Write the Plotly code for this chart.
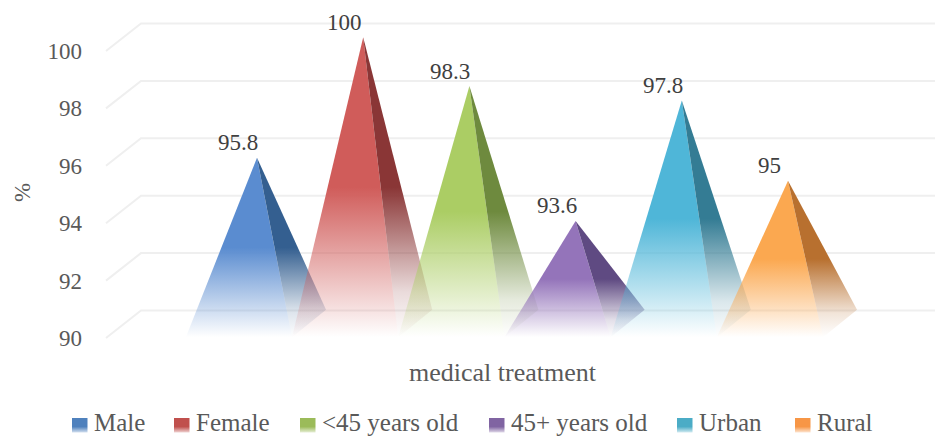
import plotly.graph_objects as go

# Survey results, in percent
categories = ["Male", "Female", "<45 years old", "45+ years old", "Urban", "Rural"]
values = [95.8, 100, 98.3, 93.6, 97.8, 95]
y_ticks = [90, 92, 94, 96, 98, 100]
x_title = "medical treatment"
y_title = "%"

front_colors = ["#5A8CD0", "#D05C5A", "#ABCD64", "#9474BA", "#4FB6D8", "#FBA850"]
side_colors = ["#345F90", "#8A3636", "#6E8A3E", "#5F4A82", "#347C94", "#B8702F"]
swatch_colors = ["#4F81BD", "#C0504D", "#9BBB59", "#8064A2", "#4BACC6", "#F79646"]
legend_x = [72, 174, 300, 489, 677, 795]

WIDTH, HEIGHT = 935, 438
FONT = "Liberation Serif"
NUMBER_SIZE = 23
TITLE_SIZE = 26
LEGEND_SIZE = 25

# Pixel layout of the oblique projection
PX_PER_UNIT = 28.7
PX_PER_SLOT = 106.2
ORIGIN_X, FLOOR_Y = 257.0, 338.0


def data_x(px):
    return (px - ORIGIN_X) / PX_PER_SLOT


def data_y(py):
    return 90 + (FLOOR_Y - py) / PX_PER_UNIT


def rgba(hex_color, alpha):
    r, g, b = (int(hex_color[i:i + 2], 16) for i in (1, 3, 5))
    return f"rgba({r},{g},{b},{alpha})"


X_RANGE = [data_x(0), data_x(WIDTH)]
Y_RANGE = [data_y(HEIGHT), data_y(0)]

DEPTH_X = 35 / PX_PER_SLOT        # front-to-back shift of the floor, in slots
DEPTH_Y = 27.5 / PX_PER_UNIT      # the same shift in value units
APEX_LIFT = DEPTH_Y / 2           # apexes stand on the mid-depth plane
FRONT_LEFT, FRONT_RIGHT, BACK_RIGHT = -0.67, 0.33, 0.65

fig = go.Figure()

# Oblique gridlines: short return on the left wall, long run along the back wall
grid_x, grid_y = [], []
for tick in y_ticks:
    grid_x += [data_x(106), data_x(106) + DEPTH_X, X_RANGE[1], None]
    grid_y += [tick, tick + DEPTH_Y, tick + DEPTH_Y, None]
fig.add_trace(go.Scatter(x=grid_x, y=grid_y, mode="lines", showlegend=False,
                         hoverinfo="skip", line=dict(color="#EFEFEF", width=2)))


def face(xs, ys, color, bottom, top, low_alpha):
    """One pyramid face, opaque in its upper half and fading out to the base."""
    fig.add_trace(go.Scatter(
        x=xs, y=ys, mode="lines", fill="toself", showlegend=False, hoverinfo="skip",
        line=dict(width=0),
        fillgradient=dict(type="vertical", start=bottom, stop=top,
                          colorscale=[[0, rgba(color, 0)],
                                      [0.15, rgba(color, low_alpha)],
                                      [0.5, rgba(color, 1)],
                                      [1, rgba(color, 1)]]),
    ))


annotations = []
for i, (name, value) in enumerate(zip(categories, values)):
    apex = value + APEX_LIFT
    base = 90 + 0.03
    # front face
    face([i + FRONT_LEFT, i + FRONT_RIGHT, i, i + FRONT_LEFT],
         [base, base, apex, base], front_colors[i], base, apex, 0.3)
    # shaded right-hand face
    face([i + FRONT_RIGHT, i + BACK_RIGHT, i, i + FRONT_RIGHT],
         [base, base + DEPTH_Y, apex, base], side_colors[i], base, apex, 0.18)
    annotations.append(dict(x=i, y=apex, xref="x", yref="y", text=f"{value:g}",
                            showarrow=False, xanchor="center", yanchor="middle",
                            xshift=-19, yshift=15,
                            font=dict(family=FONT, size=NUMBER_SIZE, color="#404040")))

# Legend row: gradient swatch followed by its label
for name, left, color in zip(categories, legend_x, swatch_colors):
    x0, x1 = data_x(left), data_x(left + 15.5)
    y0, y1 = data_y(432.5), data_y(418)
    fig.add_trace(go.Scatter(
        x=[x0, x1, x1, x0, x0], y=[y0, y0, y1, y1, y0], mode="lines", fill="toself",
        showlegend=False, hoverinfo="skip", line=dict(width=0),
        fillgradient=dict(type="vertical", start=y0, stop=y1,
                          colorscale=[[0, rgba(color, 0.25)], [0.4, rgba(color, 1)],
                                      [1, rgba(color, 1)]]),
    ))
    annotations.append(dict(x=(left + 20.5) / WIDTH, y=1 - 422.5 / HEIGHT, xref="paper", yref="paper",
                            text=name, showarrow=False, xanchor="left", yanchor="middle",
                            borderpad=0,
                            font=dict(family=FONT, size=LEGEND_SIZE, color="#595959")))

annotations.append(dict(x=503.5 / WIDTH, y=1 - 372 / HEIGHT, xref="paper", yref="paper",
                        text=x_title, showarrow=False, xanchor="center", yanchor="middle",
                        font=dict(family=FONT, size=TITLE_SIZE, color="#595959")))
annotations.append(dict(x=22 / WIDTH, y=1 - 193 / HEIGHT, xref="paper", yref="paper",
                        text=y_title, showarrow=False, textangle=-90,
                        xanchor="center", yanchor="middle",
                        font=dict(family=FONT, size=NUMBER_SIZE, color="#595959")))

fig.update_layout(
    width=WIDTH, height=HEIGHT, autosize=False,
    margin=dict(l=0, r=0, t=0, b=0),
    paper_bgcolor="white", plot_bgcolor="white",
    showlegend=False, annotations=annotations,
    xaxis=dict(visible=False, range=X_RANGE, domain=[0, 1]),
    yaxis=dict(range=Y_RANGE, domain=[0, 1], anchor="free", position=82 / WIDTH,
               tickmode="array", tickvals=y_ticks, ticktext=[str(t) for t in y_ticks],
               showgrid=False, zeroline=False, showline=False, ticks="",
               tickfont=dict(family=FONT, size=NUMBER_SIZE, color="#595959")),
)

fig.write_html("out.html")
